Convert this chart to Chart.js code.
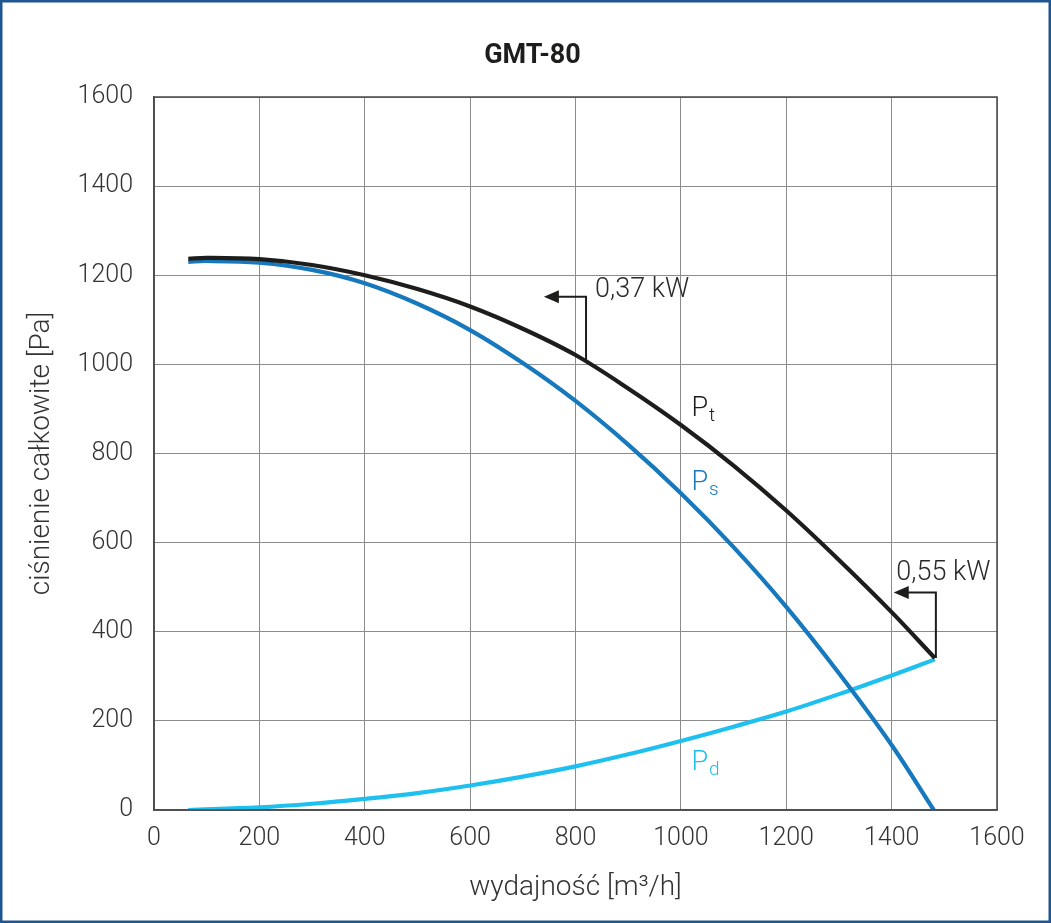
<!DOCTYPE html>
<html>
<head>
<meta charset="utf-8">
<script src="https://cdn.jsdelivr.net/npm/chart.js@4.4.1/dist/chart.umd.min.js"></script>
<style>
  html, body { margin: 0; padding: 0; background: #fff; }
  #wrap { position: relative; width: 1051px; height: 923px; }
</style>
</head>
<body>
<div id="wrap"><canvas id="c"></canvas></div>
<script>
// ---- data ----
const chartTitle = 'GMT-80';

const flowPt = [65, 100, 200, 300, 400, 500, 600, 700, 800, 900, 1000, 1100, 1200, 1300, 1400, 1482];
const pressurePt = [1237, 1239, 1236, 1223, 1200, 1169, 1130, 1080, 1021, 946, 864, 773, 672, 561, 444, 341];

const flowPs = [65, 100, 200, 300, 400, 500, 600, 700, 800, 900, 1000, 1100, 1200, 1300, 1400, 1480];
const pressurePs = [1230, 1232, 1228, 1212, 1182, 1136, 1077, 1003, 918, 820, 711, 590, 456, 307, 146, 0];

const flowPd = [65, 200, 300, 400, 500, 600, 700, 800, 900, 1000, 1100, 1200, 1300, 1400, 1482];
const pressurePd = [0, 6, 14, 25, 38, 55, 75, 98, 125, 155, 187, 221, 260, 302, 338];

const seriesNames = ['Pt', 'Ps', 'Pd'];
const axisTicks = [0, 200, 400, 600, 800, 1000, 1200, 1400, 1600];
const powerLabels = ['0,37 kW', '0,55 kW'];

// ---- annotation geometry (data coordinates) ----
const powerMarks = [
  { text: powerLabels[0], vx: 820, vy0: 1010, vy1: 1152, tipX: 740, tx: 837, ty: 1151 },
  { text: powerLabels[1], vx: 1484, vy0: 341, vy1: 488, tipX: 1404, tx: 1409, ty: 516 }
];
const curveLabels = [
  { main: 'P', sub: 't', x: 1020, y: 884, color: '#1d1d1b' },
  { main: 'P', sub: 's', x: 1020, y: 718, color: '#1679be' },
  { main: 'P', sub: 'd', x: 1020, y: 90, color: '#1ec0f0' }
];

const toPts = (xs, ys) => xs.map((x, i) => ({ x: x, y: ys[i] }));

const annotPlugin = {
  id: 'annot',
  afterDatasetsDraw(chart) {
    const { ctx, chartArea: a, scales: { x, y } } = chart;
    ctx.save();
    ctx.strokeStyle = '#4a4a4a';
    ctx.lineWidth = 1.5;
    ctx.strokeRect(a.left, a.top, a.right - a.left, a.bottom - a.top);

    ctx.lineWidth = 2;
    powerMarks.forEach(m => {
      const px = x.getPixelForValue(m.vx);
      const py0 = y.getPixelForValue(m.vy0);
      const py1 = y.getPixelForValue(m.vy1);
      const tip = x.getPixelForValue(m.tipX);
      ctx.strokeStyle = '#1d1d1b';
      ctx.fillStyle = '#1d1d1b';
      ctx.beginPath();
      ctx.moveTo(px, py0);
      ctx.lineTo(px, py1);
      ctx.lineTo(tip + 12, py1);
      ctx.stroke();
      ctx.beginPath();
      ctx.moveTo(tip, py1);
      ctx.lineTo(tip + 15, py1 - 6.5);
      ctx.lineTo(tip + 15, py1 + 6.5);
      ctx.closePath();
      ctx.fill();
      ctx.font = '300 27px Roboto';
      ctx.textAlign = 'left';
      ctx.textBaseline = 'alphabetic';
      ctx.fillStyle = '#2a2a2a';
      ctx.fillText(m.text, x.getPixelForValue(m.tx), y.getPixelForValue(m.ty));
    });

    curveLabels.forEach(l => {
      const lx = x.getPixelForValue(l.x);
      const ly = y.getPixelForValue(l.y);
      ctx.fillStyle = l.color;
      ctx.font = '300 27px Roboto';
      ctx.textAlign = 'left';
      ctx.textBaseline = 'alphabetic';
      ctx.fillText(l.main, lx, ly);
      const w = ctx.measureText(l.main).width;
      ctx.font = '300 19px Roboto';
      ctx.fillText(l.sub, lx + w + 1, ly + 5);
    });
    ctx.restore();
  },
  afterDraw(chart) {
    const ctx = chart.ctx;
    ctx.save();
    ctx.fillStyle = '#1d1d1b';
    ctx.font = 'bold 27px Roboto';
    ctx.textAlign = 'center';
    ctx.textBaseline = 'middle';
    ctx.fillText(chartTitle, 532.5, 56);
    ctx.strokeStyle = '#1f5591';
    ctx.lineWidth = 2.5;
    ctx.strokeRect(1.25, 1.25, chart.width - 2.5, chart.height - 2.5);
    ctx.restore();
  }
};

const tickFont = { family: 'Roboto', size: 25, weight: 300 };
const plainTick = v => String(v);

new Chart(document.getElementById('c'), {
  type: 'line',
  data: {
    datasets: [
      { label: seriesNames[0], data: toPts(flowPt, pressurePt), borderColor: '#1d1d1b', borderWidth: 4.2, pointRadius: 0, tension: 0.35, fill: false },
      { label: seriesNames[1], data: toPts(flowPs, pressurePs), borderColor: '#1679be', borderWidth: 4.2, pointRadius: 0, tension: 0.35, fill: false },
      { label: seriesNames[2], data: toPts(flowPd, pressurePd), borderColor: '#1ec0f0', borderWidth: 4.2, pointRadius: 0, tension: 0.35, fill: false }
    ]
  },
  options: {
    responsive: true,
    maintainAspectRatio: false,
    animation: false,
    layout: { padding: { top: 97, left: 0, right: 54, bottom: 0 } },
    plugins: {
      legend: { display: false },
      tooltip: { enabled: false },
      title: { display: false }
    },
    scales: {
      x: {
        type: 'linear',
        min: 0, max: 1600,
        afterBuildTicks: s => { s.ticks = axisTicks.map(v => ({ value: v })); },
        afterFit: s => { s.height = 113; },
        grid: { color: '#8c8c8c', lineWidth: 1, drawTicks: false },
        border: { color: '#555', width: 1.5 },
        ticks: { color: '#333', font: tickFont, padding: 14, maxRotation: 0, callback: plainTick },
        title: { display: true, text: 'wydajność [m³/h]', color: '#333', font: { family: 'Roboto', size: 28, weight: 300 }, padding: { top: 0, bottom: 18 } }
      },
      y: {
        type: 'linear',
        min: 0, max: 1600,
        afterBuildTicks: s => { s.ticks = axisTicks.map(v => ({ value: v })); },
        afterFit: s => { s.width = 154; },
        grid: { color: '#8c8c8c', lineWidth: 1, drawTicks: false },
        border: { color: '#555', width: 1.5 },
        ticks: { color: '#333', font: tickFont, padding: 21, callback: plainTick },
        title: { display: true, text: 'ciśnienie całkowite [Pa]', color: '#333', font: { family: 'Roboto', size: 28, weight: 300 }, padding: { top: 25, bottom: 0 } }
      }
    }
  },
  plugins: [annotPlugin]
});
</script>
</body>
</html>
